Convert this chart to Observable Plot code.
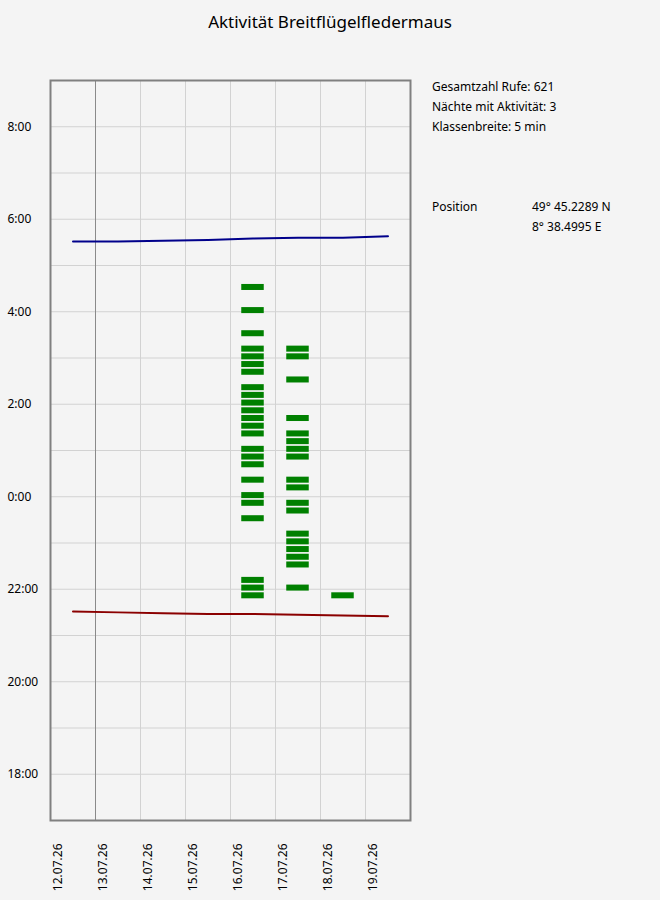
<!DOCTYPE html>
<html>
<head>
<meta charset="utf-8">
<script src="https://cdn.jsdelivr.net/npm/d3@7"></script>
<script src="https://cdn.jsdelivr.net/npm/@observablehq/plot@0.6"></script>
<style>
html, body { margin: 0; padding: 0; background: #f4f4f4; }
#wrap { position: relative; width: 660px; height: 900px; font-family: "Noto Sans", sans-serif; color: #000; }
#title { position: absolute; left: 0; top: 9px; width: 660px; text-align: center; font-size: 17px; line-height: 26px; }
.info { position: absolute; font-size: 12px; line-height: 20px; white-space: nowrap; }
#chart { position: absolute; left: 0; top: 0; }
</style>
</head>
<body>
<div id="wrap">
  <div id="chart"></div>
  <div id="title">Aktivität Breitflügelfledermaus</div>
  <div class="info" style="left:432px;top:77px;">Gesamtzahl Rufe: 621<br>Nächte mit Aktivität: 3<br>Klassenbreite: 5 min</div>
  <div class="info" style="left:432px;top:197px;">Position</div>
  <div class="info" style="left:532px;top:197px;">49° 45.2289 N<br>8° 38.4995 E</div>
</div>
<script>
// ---- data ----
const dayLabels = ["12.07.26","13.07.26","14.07.26","15.07.26","16.07.26","17.07.26","18.07.26","19.07.26"];
const dayDates  = ["2026-07-12","2026-07-13","2026-07-14","2026-07-15","2026-07-16","2026-07-17","2026-07-18","2026-07-19"];
const markedDay = "2026-07-13";
const hourLabels = [18, 20, 22, 24, 26, 28, 30, 32];

// sunrise / sunset per night (night starting on dayDates[i])
const sunrise = ["05:31","05:31","05:32","05:33","05:35","05:36","05:36","05:38"];
const sunset  = ["21:31","21:30","21:29","21:28","21:28","21:27","21:26","21:25"];

// activity classes (start of class) per night
const night16 = ["21:50","22:00","22:10","23:30","23:50","00:00","00:20","00:40","00:50","01:00","01:20","01:30","01:40","01:50","02:00","02:10","02:20","02:40","02:50","03:00","03:10","03:30","04:00","04:30"];
const night17 = ["22:00","22:30","22:40","22:50","23:00","23:10","23:40","23:50","00:10","00:20","00:50","01:00","01:10","01:20","01:40","02:30","03:00","03:10"];
const night18 = ["21:50"];
const nights = [["2026-07-16", night16], ["2026-07-17", night17], ["2026-07-18", night18]];

// ---- helpers ----
const toHours = s => { const [h, m] = s.split(":").map(Number); return (h < 12 ? h + 24 : h) + m / 60; };
const dayAt = (s, hrs) => new Date(Date.parse(s + "T00:00:00Z") + hrs * 3600e3);
const fmtHour = h => `${h % 24}:00`;

const sun = dayDates.map((d, i) => ({date: dayAt(d, 12), rise: toHours(sunrise[i]), set: toHours(sunset[i])}));
const calls = nights.flatMap(([d, list]) => list.map(t => ({night: d, t: toHours(t)})));
const gridHours = d3.range(18, 33);
const gridDays = dayDates.filter(d => d !== dayDates[0] && d !== markedDay).map(d => dayAt(d, 0));

const chart = Plot.plot({
  width: 660,
  height: 900,
  marginLeft: 50,
  marginRight: 250,
  marginTop: 80,
  marginBottom: 80,
  style: {background: "transparent", fontFamily: "Noto Sans", fontSize: "12px", color: "#000"},
  x: {type: "utc", domain: [dayAt(dayDates[0], 0), dayAt(dayDates[dayDates.length - 1], 24)], axis: null},
  y: {domain: [17, 33], axis: null},
  marks: [
    Plot.ruleY(gridHours, {y: d => d, stroke: "#d2d2d2", strokeWidth: 1}),
    Plot.ruleX(gridDays, {x: d => d, stroke: "#d2d2d2", strokeWidth: 1}),
    Plot.ruleX([markedDay], {x: d => dayAt(d, 0), stroke: "#8a8a8a", strokeWidth: 1}),
    Plot.rect(calls, {
      x1: d => dayAt(d.night, 6),
      x2: d => dayAt(d.night, 18),
      y1: d => d.t - 2.4 / 60,
      y2: d => d.t + 5.4 / 60,
      fill: "#008000"
    }),
    Plot.line(sun, {x: "date", y: "rise", stroke: "#00008b", strokeWidth: 2}),
    Plot.line(sun, {x: "date", y: "set", stroke: "#8b0000", strokeWidth: 2}),
    Plot.frame({stroke: "#808080", strokeWidth: 2}),
    Plot.text(hourLabels, {y: d => d, frameAnchor: "left", text: fmtHour, textAnchor: "start", dx: -43, fill: "#000"}),
    Plot.text(dayDates, {
      x: d => dayAt(d, 0),
      frameAnchor: "bottom",
      text: (d, i) => dayLabels[i],
      rotate: -90,
      textAnchor: "end",
      lineAnchor: "middle",
      dx: 8,
      dy: 23,
      fill: "#000"
    })
  ]
});
document.getElementById("chart").appendChild(chart);
</script>
</body>
</html>
